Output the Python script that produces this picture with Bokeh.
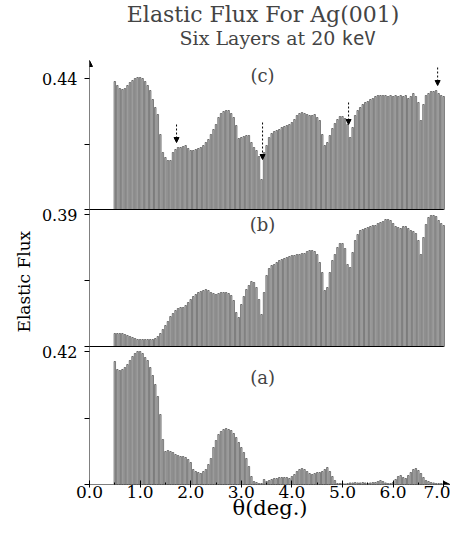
from bokeh.plotting import figure
from bokeh.models import (Range1d, FixedTicker, CustomJSTickFormatter, PrintfTickFormatter,
                          Label, Arrow, NormalHead, Title)
from bokeh.embed import file_html
from bokeh.resources import INLINE

# ---------------- data ----------------
THETA = [round(0.50 + 0.05 * k, 2) for k in range(131)]   # deg.

FLUX_C = [
    0.4385, 0.4365, 0.4350, 0.4345, 0.4350, 0.4365, 0.4380, 0.4390, 0.4400, 0.4405,
    0.4405, 0.4400, 0.4385, 0.4365, 0.4340, 0.4295, 0.4255, 0.4220, 0.4120, 0.4030,
    0.4005, 0.3990, 0.3990, 0.4030, 0.4045, 0.4055, 0.4055, 0.4060, 0.4065, 0.4050,
    0.4040, 0.4040, 0.4045, 0.4050, 0.4055, 0.4065, 0.4080, 0.4095, 0.4120, 0.4145,
    0.4170, 0.4205, 0.4225, 0.4235, 0.4240, 0.4240, 0.4225, 0.4205, 0.4165, 0.4100,
    0.4105, 0.4110, 0.4115, 0.4115, 0.4080, 0.4055, 0.4040, 0.4010, 0.3895, 0.4030,
    0.4065, 0.4105, 0.4125, 0.4135, 0.4140, 0.4145, 0.4155, 0.4160, 0.4165, 0.4170,
    0.4180, 0.4195, 0.4215, 0.4225, 0.4230, 0.4225, 0.4220, 0.4215, 0.4215, 0.4220,
    0.4205, 0.4190, 0.4120, 0.4065, 0.4080, 0.4115, 0.4150, 0.4175, 0.4195, 0.4210,
    0.4210, 0.4200, 0.4170, 0.4105, 0.4155, 0.4215, 0.4240, 0.4255, 0.4270, 0.4280,
    0.4285, 0.4295, 0.4300, 0.4310, 0.4315, 0.4315, 0.4315, 0.4315, 0.4310, 0.4315,
    0.4310, 0.4315, 0.4310, 0.4315, 0.4310, 0.4315, 0.4300, 0.4310, 0.4325, 0.4310,
    0.4280, 0.4190, 0.4270, 0.4315, 0.4325, 0.4335, 0.4335, 0.4340, 0.4325, 0.4315,
    0.4310,
]

FLUX_B = [
    0.3305, 0.3305, 0.3305, 0.3305, 0.3300, 0.3295, 0.3290, 0.3285, 0.3280, 0.3275,
    0.3275, 0.3275, 0.3275, 0.3275, 0.3275, 0.3275, 0.3280, 0.3290, 0.3305, 0.3325,
    0.3345, 0.3365, 0.3390, 0.3405, 0.3420, 0.3430, 0.3435, 0.3435, 0.3445, 0.3460,
    0.3475, 0.3490, 0.3500, 0.3510, 0.3515, 0.3520, 0.3525, 0.3520, 0.3510, 0.3505,
    0.3500, 0.3505, 0.3510, 0.3510, 0.3510, 0.3505, 0.3495, 0.3470, 0.3410, 0.3385,
    0.3450, 0.3490, 0.3525, 0.3545, 0.3565, 0.3560, 0.3535, 0.3475, 0.3400, 0.3510,
    0.3595, 0.3630, 0.3645, 0.3650, 0.3660, 0.3670, 0.3675, 0.3680, 0.3685, 0.3690,
    0.3695, 0.3695, 0.3700, 0.3700, 0.3705, 0.3705, 0.3715, 0.3720, 0.3720, 0.3715,
    0.3700, 0.3660, 0.3610, 0.3520, 0.3535, 0.3610, 0.3670, 0.3700, 0.3735, 0.3755,
    0.3755, 0.3730, 0.3650, 0.3635, 0.3710, 0.3770, 0.3800, 0.3820, 0.3825, 0.3830,
    0.3835, 0.3840, 0.3845, 0.3845, 0.3855, 0.3860, 0.3865, 0.3875, 0.3875, 0.3870,
    0.3855, 0.3840, 0.3835, 0.3830, 0.3840, 0.3840, 0.3830, 0.3820, 0.3815, 0.3805,
    0.3770, 0.3700, 0.3785, 0.3850, 0.3885, 0.3895, 0.3895, 0.3890, 0.3870, 0.3855,
    0.3845,
]

FLUX_A = [
    0.4150, 0.4110, 0.4105, 0.4110, 0.4120, 0.4135, 0.4155, 0.4175, 0.4190, 0.4200,
    0.4200, 0.4190, 0.4170, 0.4155, 0.4120, 0.4080, 0.4035, 0.3975, 0.3885, 0.3760,
    0.3700, 0.3705, 0.3700, 0.3695, 0.3685, 0.3680, 0.3675, 0.3675, 0.3670, 0.3660,
    0.3645, 0.3610, 0.3600, 0.3595, 0.3590, 0.3600, 0.3610, 0.3635, 0.3665, 0.3720,
    0.3755, 0.3785, 0.3800, 0.3810, 0.3815, 0.3810, 0.3805, 0.3790, 0.3770, 0.3745,
    0.3720, 0.3695, 0.3665, 0.3625, 0.3575, 0.3550, 0.3545, 0.3540, 0.3540, 0.3560,
    0.3550, 0.3555, 0.3560, 0.3565, 0.3565, 0.3570, 0.3570, 0.3570, 0.3570, 0.3565,
    0.3575, 0.3585, 0.3600, 0.3610, 0.3615, 0.3610, 0.3600, 0.3590, 0.3585, 0.3590,
    0.3595, 0.3595, 0.3600, 0.3610, 0.3620, 0.3600, 0.3575, 0.3555, 0.3540, 0.3540,
    0.3540, 0.3538, 0.3540, 0.3543, 0.3543, 0.3545, 0.3543, 0.3543, 0.3545, 0.3543,
    0.3540, 0.3543, 0.3545, 0.3545, 0.3550, 0.3555, 0.3550, 0.3543, 0.3540, 0.3540,
    0.3545, 0.3560, 0.3575, 0.3580, 0.3570, 0.3565, 0.3580, 0.3595, 0.3610, 0.3615,
    0.3605, 0.3590, 0.3570, 0.3555, 0.3550, 0.3545, 0.3543, 0.3540, 0.3540, 0.3540,
    0.3540,
]

PANEL_NAMES = ["a", "b", "c"]
PANEL_LABELS = ["(a)", "(b)", "(c)"]
PANEL_FLUX = [FLUX_A, FLUX_B, FLUX_C]
PANEL_BASELINE = [0.3535, 0.3240, 0.3745]      # flux at each panel's baseline
PANEL_TOP_TICK = [0.42, 0.39, 0.44]            # labelled top tick of each panel
TOP_TICK_LABELS = ["0.42", "0.39", "0.44"]

X_TICKS = [0, 1, 2, 3, 4, 5, 6, 7]
X_MINOR = [0.5, 1.5, 2.5, 3.5, 4.5, 5.5, 6.5]

ARROW_THETA = [1.72, 3.42, 5.12, 6.88]         # dotted markers in panel (c)
ARROW_FROM = [0.4170, 0.4180, 0.4280, 0.4455]
ARROW_TO = [0.4080, 0.3995, 0.4170, 0.4365]

# ---------------- layout (pixels) ----------------
W, H = 450, 526
BL, BB = 89, 42
FRAME_H = H - BB
PX_PER_DEG = 50.6
PANEL_BASE_PX = [0, 138, 275]
PANEL_SPAN_PX = [133, 132, 131]
SERIF = "DejaVu Serif"

p = figure(width=W, height=H, output_backend="svg", toolbar_location=None,
           x_range=Range1d(0, (W - BL) / PX_PER_DEG), y_range=Range1d(0, FRAME_H),
           min_border_left=BL, min_border_right=0, min_border_top=0, min_border_bottom=BB,
           title=None)
p.outline_line_color = None
p.xgrid.visible = False
p.ygrid.visible = False
p.background_fill_color = "white"

major_px, minor_px = [], []
for i, name in enumerate(PANEL_NAMES):
    B, T = PANEL_BASELINE[i], PANEL_TOP_TICK[i]
    s = (T - B) / PANEL_SPAN_PX[i]
    start = B - s * PANEL_BASE_PX[i]
    p.extra_y_ranges[name] = Range1d(start, start + s * FRAME_H)
    p.vbar(x=THETA, top=PANEL_FLUX[i], bottom=B, width=0.03, y_range_name=name,
           fill_color="#c4c4c4", line_color="black", line_width=0.45)
    if name != "a":
        p.segment(x0=[0], x1=[THETA[-1]], y0=[B], y1=[B], y_range_name=name,
                  line_color="black", line_width=1)
    to_px = lambda v: PANEL_BASE_PX[i] + (v - B) / s
    major_px.append(to_px(T))
    minor_px += [to_px(B), to_px((B + T) / 2)]

# y axis
ya = p.yaxis[0]
ya.ticker = FixedTicker(ticks=major_px, minor_ticks=minor_px)
ya.formatter = CustomJSTickFormatter(args=dict(labels=TOP_TICK_LABELS), code="return labels[index];")
ya.axis_line_color = None
ya.major_tick_in = 0
ya.major_tick_out = 5
ya.minor_tick_in = 0
ya.minor_tick_out = 5
ya.major_label_standoff = 7
ya.major_label_text_font = SERIF
ya.major_label_text_font_size = "16px"
ya.major_label_text_color = "black"

# x axis
xa = p.xaxis[0]
xa.ticker = FixedTicker(ticks=X_TICKS, minor_ticks=X_MINOR)
xa.formatter = PrintfTickFormatter(format="%.1f")
xa.axis_line_color = None
xa.major_tick_in = 4
xa.major_tick_out = 3
xa.minor_tick_in = 2
xa.minor_tick_out = 0
xa.major_label_standoff = -2
xa.major_label_text_font = SERIF
xa.major_label_text_font_size = "17px"
xa.major_label_text_color = "black"
xa.axis_label = "θ(deg.)"
xa.axis_label_text_font = SERIF
xa.axis_label_text_font_style = "normal"
xa.axis_label_text_font_size = "21px"
xa.axis_label_text_color = "black"
xa.axis_label_standoff = -5

# y title
p.add_layout(Title(text="Elastic Flux", align="left", offset=152, standoff=10,
                   text_font=SERIF, text_font_style="normal", text_font_size="17px",
                   text_color="black"), "left")

# axis lines with arrow heads
p.add_layout(Arrow(x_start=0, y_start=0, x_end=(W - BL) / PX_PER_DEG - 0.01, y_end=0,
                   line_width=1, end=NormalHead(size=6, fill_color="black", line_width=1)))
p.add_layout(Arrow(x_start=0, y_start=0, x_end=0, y_end=424,
                   line_width=1, end=NormalHead(size=6, fill_color="black", line_width=1)))

# dotted marker arrows in panel (c)
for xt, y0, y1 in zip(ARROW_THETA, ARROW_FROM, ARROW_TO):
    p.add_layout(Arrow(x_start=xt, y_start=y0, x_end=xt, y_end=y1, y_range_name="c",
                       line_width=1, line_dash="2 2",
                       end=NormalHead(size=5, fill_color="black", line_width=1)))

# panel labels
for lab, ypx in zip(PANEL_LABELS, [107, 260, 409]):
    p.add_layout(Label(x=3.42, y=ypx, text=lab, text_font=SERIF, text_font_size="18px",
                       text_align="center", text_baseline="middle"))

# titles
p.add_layout(Label(x=3.43, y=470, text="Elastic Flux For Ag(001)", text_font=SERIF,
                   text_font_size="22px", text_align="center", text_baseline="middle"))
p.add_layout(Label(x=4.86, y=447, text="Six Layers at 20", text_font=SERIF,
                   text_font_size="19px", text_align="right", text_baseline="middle"))
p.add_layout(Label(x=4.98, y=447, text="keV", text_font="DejaVu Sans Mono",
                   text_font_size="19px", text_align="left", text_baseline="middle"))

open("out.html", "w").write(file_html(p, INLINE))
